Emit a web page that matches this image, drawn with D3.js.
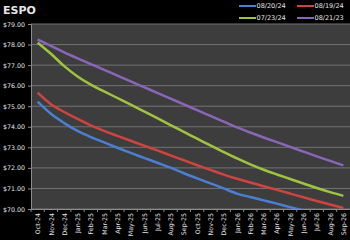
<!DOCTYPE html>
<html>
<head>
<meta charset="utf-8">
<script src="https://cdn.jsdelivr.net/npm/d3@7"></script>
<style>
  body { margin: 0; background: #000; }
  svg { display: block; }
  text { font-family: "DejaVu Sans", sans-serif; fill: #e6e6e6; }
</style>
</head>
<body>
<script>
// months on the category axis
const months = ["Oct-24","Nov-24","Dec-24","Jan-25","Feb-25","Mar-25","Apr-25","May-25","Jun-25","Jul-25","Aug-25","Sep-25",
  "Oct-25","Nov-25","Dec-25","Jan-26","Feb-26","Mar-26","Apr-26","May-26","Jun-26","Jul-26","Aug-26","Sep-26"]

// forward curves, one array per settle date
const s082024 = [75.22,74.63,74.18,73.80,73.50,73.24,72.98,72.73,72.49,72.25,72.01,71.74,
  71.49,71.25,71.00,70.75,70.58,70.42,70.26,70.09,69.93,69.77,69.61,69.45]
const s081924 = [75.66,75.10,74.72,74.38,74.07,73.80,73.56,73.32,73.08,72.85,72.61,72.37,
  72.13,71.90,71.67,71.47,71.29,71.11,70.93,70.75,70.57,70.39,70.22,70.05]
const s072324 = [78.09,77.55,76.95,76.45,76.05,75.72,75.40,75.08,74.75,74.42,74.08,73.75,
  73.42,73.09,72.77,72.46,72.17,71.91,71.68,71.46,71.24,71.02,70.82,70.64]
const s082123 = [78.25,77.93,77.62,77.33,77.05,76.77,76.49,76.21,75.93,75.65,75.37,75.09,
  74.81,74.53,74.25,73.97,73.72,73.48,73.25,73.02,72.79,72.56,72.34,72.12]

const yTicks = [70,71,72,73,74,75,76,77,78,79]

const series = [
  {name: "08/20/24", values: s082024, color: "#4a7fd4"},
  {name: "08/19/24", values: s081924, color: "#d0443f"},
  {name: "07/23/24", values: s072324, color: "#9fc43e"},
  {name: "08/21/23", values: s082123, color: "#8a66b8"}
]

const w = 350, h = 240
const pLeft = 31, pRight = 350, pTop = 24, pBottom = 209

const svg = d3.select("body").append("svg")
  .attr("width", w)
  .attr("height", h)

const x = d3.scalePoint().domain(months).range([pLeft, pRight]).padding(0.5)
const y = d3.scaleLinear().domain([70, 79]).range([pBottom, pTop])

// plot area
svg.append("rect")
  .attr("x", pLeft).attr("y", pTop)
  .attr("width", pRight - pLeft).attr("height", pBottom - pTop)
  .attr("fill", "#3d3d3d")

// gridlines
svg.append("g")
  .selectAll("line")
  .data(yTicks)
  .enter()
  .append("line")
  .attr("x1", pLeft).attr("x2", pRight)
  .attr("y1", d => y(d)).attr("y2", d => y(d))
  .attr("stroke", "#737373")
  .attr("stroke-width", 1)

// y axis
const yAxis = svg.append("g")
  .attr("transform", `translate(${pLeft},0)`)
  .call(d3.axisLeft(y).tickValues(yTicks).tickFormat(d => "$" + d.toFixed(2)).tickSize(3))
yAxis.select(".domain").attr("stroke", "#8c8c8c")
yAxis.selectAll(".tick line").attr("stroke", "#8c8c8c")
yAxis.selectAll("text")
  .attr("font-size", "6.3px")
  .attr("font-family", "DejaVu Sans")
  .attr("fill", "#e6e6e6")
  .attr("x", -6)

// clip so values under $70 stop at the axis
svg.append("clipPath").attr("id", "plot")
  .append("rect")
  .attr("x", pLeft).attr("y", pTop)
  .attr("width", pRight - pLeft).attr("height", pBottom - pTop)

const line = d3.line()
  .x((d, i) => x(months[i]))
  .y(d => y(d))
  .curve(d3.curveMonotoneX)

svg.append("g")
  .attr("clip-path", "url(#plot)")
  .selectAll("path")
  .data(series)
  .enter()
  .append("path")
  .attr("d", d => line(d.values))
  .attr("fill", "none")
  .attr("stroke", d => d.color)
  .attr("stroke-width", 2.5)
  .attr("stroke-linejoin", "round")

// x axis
const step = x.step()
const xg = svg.append("g")
xg.append("line")
  .attr("x1", pLeft).attr("x2", pRight)
  .attr("y1", pBottom + 0.5).attr("y2", pBottom + 0.5)
  .attr("stroke", "#8c8c8c")
xg.selectAll(".tk")
  .data(months)
  .enter()
  .append("line")
  .attr("class", "tk")
  .attr("x1", d => x(d) - step / 2).attr("x2", d => x(d) - step / 2)
  .attr("y1", pBottom).attr("y2", pBottom + 3)
  .attr("stroke", "#8c8c8c")
xg.selectAll("text")
  .data(months)
  .enter()
  .append("text")
  .attr("transform", d => `translate(${x(d) + 2.6},${pBottom + 4}) rotate(-90)`)
  .attr("text-anchor", "end")
  .attr("font-size", "6.3px")
  .text(d => d)

// title
svg.append("text")
  .attr("x", 3).attr("y", 14)
  .attr("font-family", "Liberation Sans")
  .attr("font-weight", "bold")
  .attr("font-size", "11px")
  .attr("fill", "#fff")
  .text("ESPO")

// legend
const legend = svg.append("g")
  .selectAll("g")
  .data(series)
  .enter()
  .append("g")
  .attr("transform", (d, i) => `translate(${i % 2 === 0 ? 239 : 297},${i < 2 ? 6 : 18})`)
legend.append("line")
  .attr("x1", 0).attr("x2", 17)
  .attr("stroke", d => d.color)
  .attr("stroke-width", 2)
legend.append("text")
  .attr("x", 17.5).attr("y", 2.3)
  .attr("font-size", "6.5px")
  .text(d => d.name)
</script>
</body>
</html>
